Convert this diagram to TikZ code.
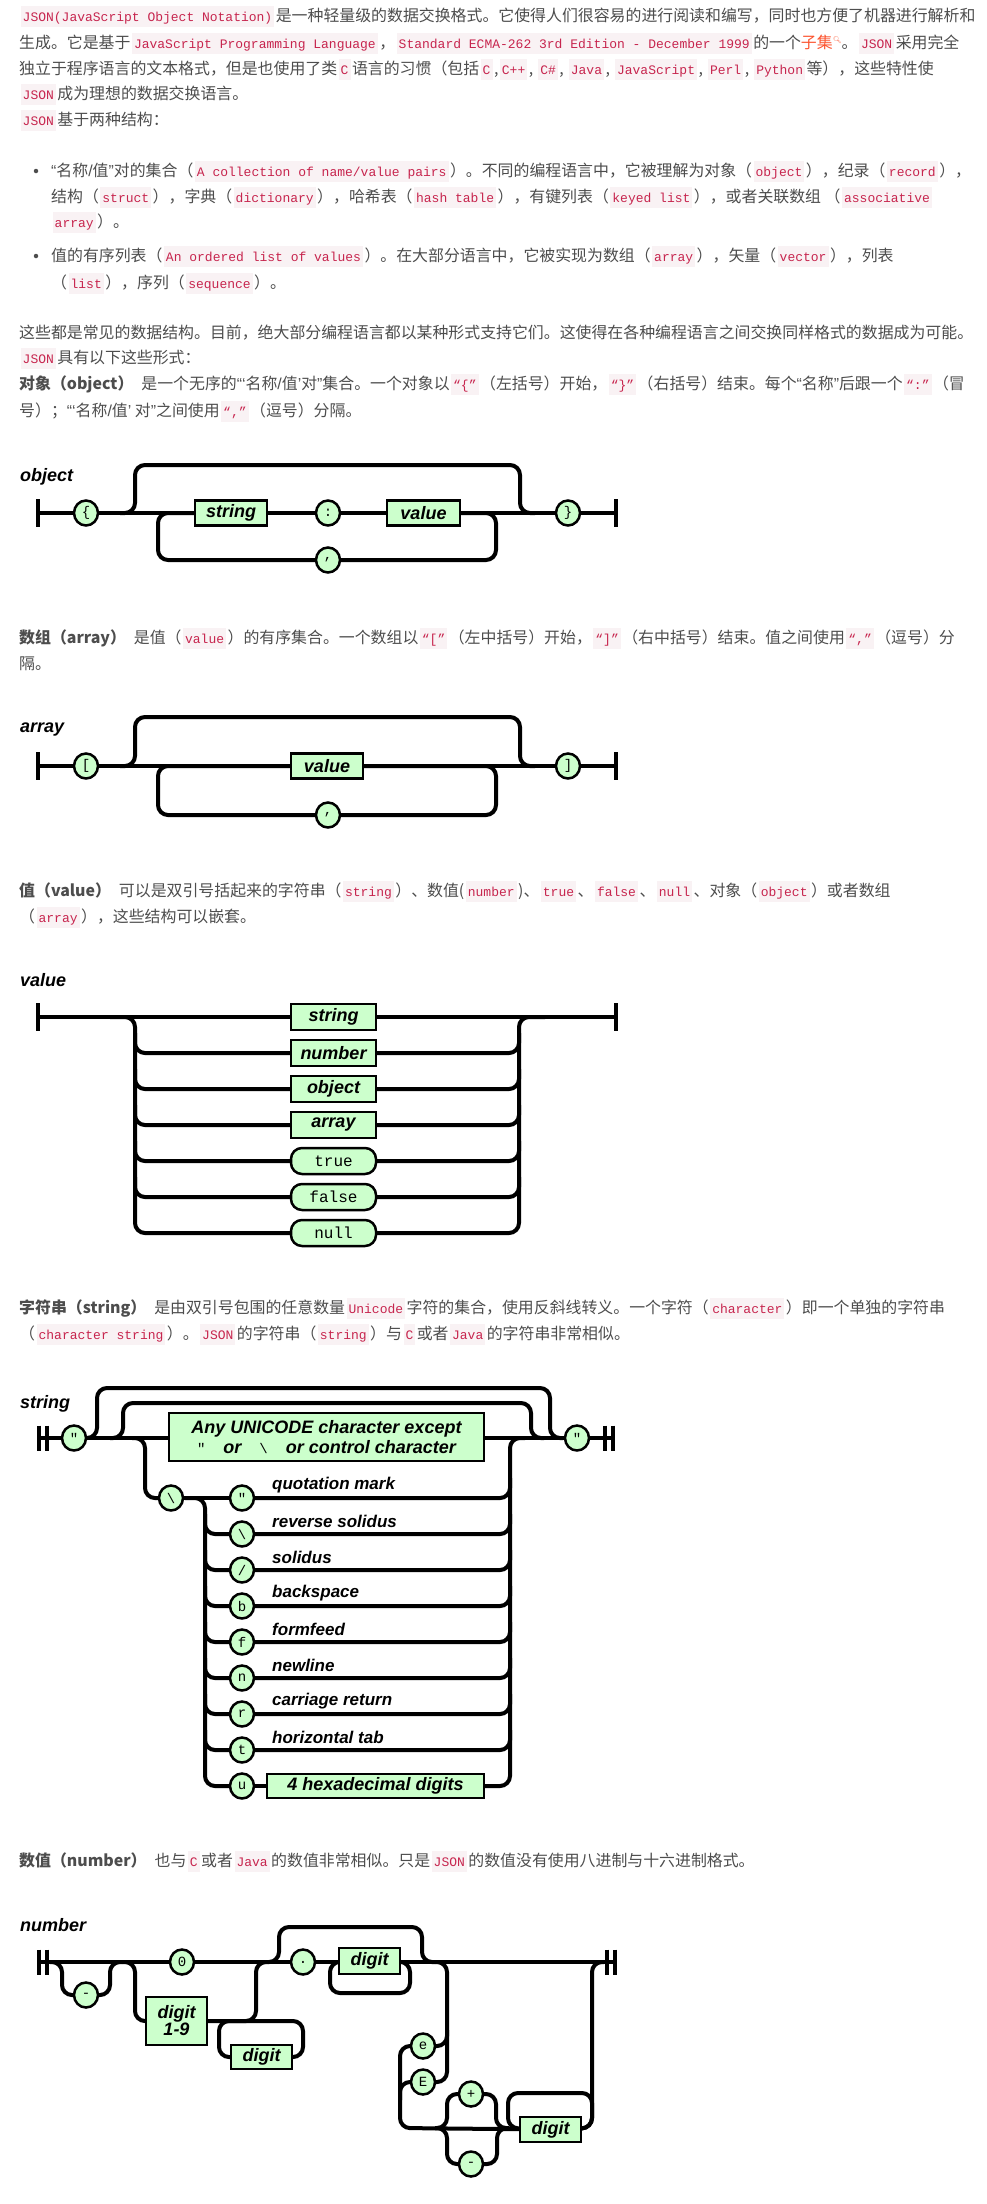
\documentclass[tikz,border=0pt]{standalone}
\usepackage{fontspec}
\usetikzlibrary{shapes.geometric}
\setmainfont{Noto Sans CJK SC}
\newfontfamily\rrsans{Liberation Sans}
\newfontfamily\rrmono{Liberation Mono}
\newfontfamily\codefont{Liberation Mono}
\newfontfamily\emojifont{Noto Emoji}
\definecolor{rrgreen}{HTML}{CCFFCC}
\definecolor{bodygray}{HTML}{4D4D4D}
\definecolor{codefg}{HTML}{C7254E}
\definecolor{codebg}{HTML}{F9F2F4}
\definecolor{linkred}{HTML}{FC5531}
\pgfdeclarelayer{rails}
\pgfsetlayers{rails,main}
\newcommand{\cd}[1]{\kern1.5pt{\setlength{\fboxsep}{0pt}\colorbox{codebg}{\kern2pt\codefont\fontsize{13}{13}\selectfont\color{codefg}\rule[-5.5pt]{0pt}{21pt}#1\kern2pt}}\kern1.5pt}
\newcommand{\zqa}{{\rrsans “}}
\newcommand{\zqb}{{\rrsans ”}}
\newcommand{\zqc}{{\rrsans ‘}}
\newcommand{\zqd}{{\rrsans ’}}
\newcommand{\zsl}{{\rrsans /}}
\newcommand{\rrtitle}{\rrsans\bfseries\itshape\fontsize{18}{18}\selectfont}
\newcommand{\rrboxfont}{\rrsans\bfseries\itshape\fontsize{18}{20}\selectfont}
\newcommand{\rresc}{\rrsans\bfseries\itshape\fontsize{17}{17}\selectfont}
\newcommand{\rrtok}{\rrmono\fontsize{14}{14}\selectfont}
\newcommand{\rrlit}{\rrmono\fontsize{16}{16}\selectfont}
\newcommand{\bodyfont}{\fontsize{15.9}{20}\selectfont}
\newcommand{\mq}[1]{{\rrmono\mdseries\upshape\fontsize{14}{14}\selectfont #1}}
\tikzset{
  rail/.style={line width=4pt, rounded corners=10pt},
  endbar/.style={line width=4pt},
  tok/.style={ellipse, draw, line width=2.5pt, fill=rrgreen, minimum width=24pt, minimum height=25pt, inner sep=0pt, font=\rrtok},
  ntb/.style={rectangle, draw, line width=2.5pt, fill=rrgreen, inner sep=0pt, font=\rrboxfont, align=center},
  lit/.style={rectangle, rounded corners=11pt, draw, line width=2.5pt, fill=rrgreen, inner sep=0pt, font=\rrlit, minimum width=85pt, minimum height=26pt},
  ttl/.style={anchor=west, inner sep=0pt, font=\rrtitle},
  esc/.style={anchor=west, inner sep=0pt, font=\rresc},
  body/.style={anchor=base west, inner sep=0pt, text=bodygray, font=\bodyfont},
  bulletdot/.style={circle, fill=bodygray, inner sep=0pt, minimum size=4.5pt},
}
\begin{document}
\begin{tikzpicture}[x=1pt,y=-1pt]
\begin{pgfonlayer}{rails}
\fill[white] (0,0) rectangle (986,2204);
\end{pgfonlayer}
\useasboundingbox (0,0) rectangle (986,2204);

% ---------------- body text ----------------
\node[body] (t1) at (19,21) {\cd{JSON(JavaScript Object Notation)}是一种轻量级的数据交换格式。它使得人们很容易的进行阅读和编写，同时也方便了机器进行解析和};
\node[body] (t2) at (19,48) {生成。它是基于\cd{JavaScript Programming Language}，\cd{Standard ECMA-262 3rd Edition - December 1999} 的一个{\color{linkred}子集\raisebox{6pt}{\emojifont\fontsize{7}{7}\selectfont 🔍}}。\cd{JSON}采用完全};
\node[body] (t3) at (19,74) {独立于程序语言的文本格式，但是也使用了类\cd{C}语言的习惯（包括\cd{C},\cd{C++}, \cd{C\#}, \cd{Java}, \cd{JavaScript}, \cd{Perl}, \cd{Python}等），这些特性使};
\node[body] (t4) at (19,99) {\cd{JSON}成为理想的数据交换语言。};
\node[body] (t5) at (19,125) {\cd{JSON}基于两种结构：};
\node[bulletdot] (bu1) at (36,171) {};
\node[body] (b1a) at (51,176) {\zqa 名称\zsl 值\zqb 对的集合（\cd{A collection of name/value pairs}）。不同的编程语言中，它被理解为对象（\cd{object}），纪录（\cd{record}），};
\node[body] (b1b) at (51,202) {结构（\cd{struct}），字典（\cd{dictionary}），哈希表（\cd{hash table}），有键列表（\cd{keyed list}），或者关联数组 （\cd{associative}};
\node[body] (b1c) at (51,227) {\cd{array}）。};
\node[bulletdot] (bu2) at (36,256) {};
\node[body] (b2a) at (51,261) {值的有序列表（\cd{An ordered list of values}）。在大部分语言中，它被实现为数组（\cd{array}），矢量（\cd{vector}），列表};
\node[body] (b2b) at (51,288) {（\cd{list}），序列（\cd{sequence}）。};
\node[body] (p1) at (19,338) {这些都是常见的数据结构。目前，绝大部分编程语言都以某种形式支持它们。这使得在各种编程语言之间交换同样格式的数据成为可能。};
\node[body] (p2) at (19,363) {\cd{JSON}具有以下这些形式：};
\node[body] (p3) at (19,389) {\textbf{对象（object）}\hspace{8pt}是一个无序的\zqa\zqc 名称\zsl 值\zqd 对\zqb 集合。一个对象以\cd{“\{”}（左括号）开始，\cd{“\}”}（右括号）结束。每个\zqa 名称\zqb 后跟一个\cd{“:”}（冒};
\node[body] (p4) at (19,416) {号）；\zqa\zqc 名称\zsl 值\zqd\ 对\zqb 之间使用\cd{“,”}（逗号）分隔。};
\node[body] (a1) at (19,643) {\textbf{数组（array）}\hspace{8pt}是值（\cd{value}）的有序集合。一个数组以\cd{“[”}（左中括号）开始，\cd{“]”}（右中括号）结束。值之间使用\cd{“,”}（逗号）分};
\node[body] (a2) at (19,669) {隔。};
\node[body] (v1t) at (19,896) {\textbf{值（value）}\hspace{8pt}可以是双引号括起来的字符串（\cd{string}）、数值(\cd{number})、\cd{true}、\cd{false}、\cd{null}、对象（\cd{object}）或者数组};
\node[body] (v2t) at (19,922) {（\cd{array}），这些结构可以嵌套。};
\node[body] (s1t) at (19,1313) {\textbf{字符串（string）}\hspace{8pt}是由双引号包围的任意数量\cd{Unicode}字符的集合，使用反斜线转义。一个字符（\cd{character}）即一个单独的字符串};
\node[body] (s2t) at (19,1339) {（\cd{character string}）。\cd{JSON}的字符串（\cd{string}）与\cd{C}或者\cd{Java}的字符串非常相似。};
\node[body] (n1t) at (19,1866) {\textbf{数值（number）}\hspace{8pt}也与\cd{C}或者\cd{Java}的数值非常相似。只是\cd{JSON}的数值没有使用八进制与十六进制格式。};

% ---------------- object ----------------
\node[ttl] (objT) at (20,477) {object};
\coordinate (oL) at (38,513);
\coordinate (oR) at (616,513);
\node[tok] (oOpen) at (86,513) {\{};
\node[ntb, minimum width=72pt, minimum height=25pt] (oStr) at (231,513) {string};
\node[tok] (oColon) at (328,513) {:};
\node[ntb, minimum width=73pt, minimum height=25pt] (oVal) at (423.5,513) {value};
\node[tok] (oClose) at (568,513) {\}};
\node[tok] (oComma) at (328,560) {,};
\begin{pgfonlayer}{rails}
\draw[endbar] ([yshift=14pt]oL) -- ([yshift=-14pt]oL);
\draw[endbar] ([yshift=14pt]oR) -- ([yshift=-14pt]oR);
\draw[rail] (oL) -- (oR);
\draw[rail] (120,513) -- (135,513) -- (135,465) -- (520,465) -- (520,513) -- (535,513);
\draw[rail] (oVal.center) -- (496,513) -- (496,560) -- (158,560) -- (158,513) -- (oStr.center);
\end{pgfonlayer}

% ---------------- array ----------------
\node[ttl] (arrT) at (20,730) {array};
\coordinate (aL) at (38,766);
\coordinate (aR) at (616,766);
\node[tok] (aOpen) at (86,766) {[};
\node[ntb, minimum width=72pt, minimum height=25pt] (aVal) at (327,766) {value};
\node[tok] (aClose) at (568,766) {]};
\node[tok] (aComma) at (328,815) {,};
\begin{pgfonlayer}{rails}
\draw[endbar] ([yshift=14pt]aL) -- ([yshift=-14pt]aL);
\draw[endbar] ([yshift=14pt]aR) -- ([yshift=-14pt]aR);
\draw[rail] (aL) -- (aR);
\draw[rail] (120,766) -- (135,766) -- (135,717) -- (520,717) -- (520,766) -- (535,766);
\draw[rail] (aVal.center) -- (496,766) -- (496,815) -- (158,815) -- (158,766) -- (aVal.center);
\end{pgfonlayer}

% ---------------- value ----------------
\node[ttl] (valT) at (20,980) {value};
\coordinate (vL) at (38,1017);
\coordinate (vR) at (616,1017);
\node[ntb, minimum width=85pt, minimum height=26pt] (v1) at (333.5,1017) {string};
\node[ntb, minimum width=85pt, minimum height=26pt] (v2) at (333.5,1053) {number};
\node[ntb, minimum width=85pt, minimum height=26pt] (v3) at (333.5,1089) {object};
\node[ntb, minimum width=85pt, minimum height=26pt] (v4) at (333.5,1125) {array};
\node[lit] (v5) at (333.5,1161) {true};
\node[lit] (v6) at (333.5,1197) {false};
\node[lit] (v7) at (333.5,1233) {null};
\begin{pgfonlayer}{rails}
\draw[endbar] ([yshift=14pt]vL) -- ([yshift=-14pt]vL);
\draw[endbar] ([yshift=14pt]vR) -- ([yshift=-14pt]vR);
\draw[rail] (vL) -- (vR);
\draw[rail] (110,1017) -- (135,1017) -- (135,1233) -- (v7.center);
\draw[rail] (v7.center) -- (519,1233) -- (519,1017) -- (545,1017);
\foreach \n/\yy in {v2/1053, v3/1089, v4/1125, v5/1161, v6/1197} {
  \draw[rail] ({135},{\yy-20}) -- ({135},{\yy}) -- (\n.center);
  \draw[rail] (\n.center) -- ({519},{\yy}) -- ({519},{\yy-20});
}
\end{pgfonlayer}

% ---------------- string ----------------
\node[ttl] (strT) at (20,1404) {string};
\coordinate (sL) at (39,1438);
\coordinate (sL2) at (47,1438);
\coordinate (sR) at (613,1438);
\coordinate (sR2) at (605,1438);
\node[tok] (sQ1) at (74,1438) {"};
\node[tok] (sQ2) at (577,1438) {"};
\node[ntb, minimum width=315pt, minimum height=48pt] (sAny) at (326.5,1437) {Any UNICODE character except\\\mq{"}\quad or\quad \mq{\textbackslash}\quad or control character};
\node[tok] (sBs) at (171,1498) {\textbackslash};
\node[tok] (e0) at (242,1498) {"};
\node[tok] (e1) at (242,1534) {\textbackslash};
\node[tok] (e2) at (242,1570) {/};
\node[tok] (e3) at (242,1606) {b};
\node[tok] (e4) at (242,1642) {f};
\node[tok] (e5) at (242,1678) {n};
\node[tok] (e6) at (242,1714) {r};
\node[tok] (e7) at (242,1750) {t};
\node[tok] (e8) at (242,1786) {u};
\node[ntb, minimum width=217pt, minimum height=24pt] (sHex) at (375.5,1786) {4 hexadecimal digits};
\node[esc] (l0) at (272,1485) {quotation mark};
\node[esc] (l1) at (272,1521) {reverse solidus};
\node[esc] (l2) at (272,1557) {solidus};
\node[esc] (l3) at (272,1593) {backspace};
\node[esc] (l4) at (272,1629) {formfeed};
\node[esc] (l5) at (272,1665) {newline};
\node[esc] (l6) at (272,1701) {carriage return};
\node[esc] (l7) at (272,1737) {horizontal tab};
\begin{pgfonlayer}{rails}
\draw[endbar] ([yshift=12.5pt]sL) -- ([yshift=-12.5pt]sL);
\draw[endbar] ([yshift=12.5pt]sL2) -- ([yshift=-12.5pt]sL2);
\draw[endbar] ([yshift=12.5pt]sR) -- ([yshift=-12.5pt]sR);
\draw[endbar] ([yshift=12.5pt]sR2) -- ([yshift=-12.5pt]sR2);
\draw[rail] (sL) -- (sR);
\draw[rail] (85,1438) -- (97,1438) -- (97,1388) -- (550,1388) -- (550,1438) -- (563,1438);
\draw[rail] (110,1438) -- (123,1438) -- (123,1403) -- (531,1403) -- (531,1438) -- (544,1438);
\draw[rail] (132,1438) -- (145,1438) -- (145,1498) -- (sBs.center);
\draw[rail] (sBs.center) -- (e0.center);
\draw[rail] (185,1498) -- (205,1498) -- (205,1786) -- (e8.center);
\draw[rail] (e8.center) -- (sHex.center);
\draw[rail] (sHex.center) -- (510,1786) -- (510,1438) -- (525,1438);
\draw[rail] (e0.center) -- (510,1498) -- (510,1478);
\foreach \n/\yy in {e1/1534, e2/1570, e3/1606, e4/1642, e5/1678, e6/1714, e7/1750} {
  \draw[rail] ({205},{\yy-20}) -- ({205},{\yy}) -- (\n.center);
  \draw[rail] (\n.center) -- ({510},{\yy}) -- ({510},{\yy-20});
}
\end{pgfonlayer}

% ---------------- number ----------------
\node[ttl] (numT) at (20,1925) {number};
\coordinate (nL) at (39,1962);
\coordinate (nL2) at (47,1962);
\coordinate (nR) at (615,1962);
\coordinate (nR2) at (607,1962);
\node[tok] (nMinus) at (86,1995) {-};
\node[tok] (nZero) at (182,1962) {0};
\node[ntb, minimum width=61pt, minimum height=48pt] (nD19) at (176.5,2021) {digit\\[-3pt]1-9};
\node[ntb, minimum width=61pt, minimum height=24pt] (nD1) at (261.5,2057) {digit};
\node[tok] (nDot) at (303,1962) {.};
\node[ntb, minimum width=61pt, minimum height=26pt] (nD2) at (369.5,1961) {digit};
\node[tok] (ne) at (423,2046) {e};
\node[tok] (nE) at (423,2082) {E};
\node[tok] (nPlus) at (471,2094) {+};
\node[tok] (nMin2) at (471,2164) {-};
\node[ntb, minimum width=61pt, minimum height=25pt] (nD3) at (550.5,2129.5) {digit};
\begin{pgfonlayer}{rails}
\draw[endbar] ([yshift=12.5pt]nL) -- ([yshift=-12.5pt]nL);
\draw[endbar] ([yshift=12.5pt]nL2) -- ([yshift=-12.5pt]nL2);
\draw[endbar] ([yshift=12.5pt]nR) -- ([yshift=-12.5pt]nR);
\draw[endbar] ([yshift=12.5pt]nR2) -- ([yshift=-12.5pt]nR2);
\draw[rail] (nL) -- (nR);
\draw[rail] (50,1962) -- (62,1962) -- (62,1995) -- (110,1995) -- (110,1962) -- (122,1962);
\draw[rail] (122,1962) -- (135,1962) -- (135,2021) -- (nD19.center);
\draw[rail] (nD19.center) -- (256,2021) -- (256,1962) -- (268,1962);
\draw[rail] (nD1.center) -- (303,2057) -- (303,2021) -- (219,2021) -- (219,2057) -- (nD1.center);
\draw[rail] (268,1962) -- (279,1962) -- (279,1927) -- (422,1927) -- (422,1962) -- (435,1962);
\draw[rail] (nD2.center) -- (410,1962) -- (410,1993) -- (330,1993) -- (330,1962) -- (nD2.center);
\draw[rail] (435,1962) -- (447,1962) -- (447,2082) -- (nE.center);
\draw[rail] (447,2030) -- (447,2046) -- (ne.center);
\draw[rail] (ne.center) -- (400,2046) -- (400,2128) -- (nD3.center);
\draw[rail] (nE.center) -- (400,2082) -- (400,2100);
\draw[rail] (435,2128) -- (447,2128) -- (447,2094) -- (496,2094) -- (496,2128) -- (508,2128);
\draw[rail] (435,2128) -- (447,2128) -- (447,2164) -- (497,2164) -- (497,2128) -- (509,2128);
\draw[rail] (nD3.center) -- (592,2128) -- (592,2093) -- (508,2093) -- (508,2128) -- (nD3.center);
\draw[rail] (nD3.center) -- (592,2128) -- (592,1962) -- (604,1962);
\end{pgfonlayer}
\end{tikzpicture}
\end{document}
